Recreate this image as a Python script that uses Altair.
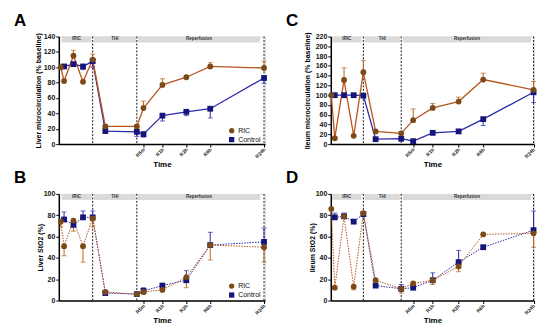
import altair as alt
import pandas as pd

FONT = "Liberation Sans"

# ---- time axis (irregular drawn positions) ----
x_liver = [2, 5.3, 14.7, 24.3, 34, 46.7, 78.3, 85, 104, 128, 152, 206]
x_ileum = [0.5, 4, 13.3, 23, 32.7, 45, 70.7, 82.7, 102.3, 128.3, 153, 203.5]
rep_labels = ["R5m", "R1h", "R2h", "R6h", "R24h"]
phase_names = ["IRIC", "THI", "Reperfusion"]
phase_liver = [(2.7, 32.7), (35.3, 77.3), (79.5, 202)]
phase_ileum = [(1.3, 30.7), (34, 69.3), (72.5, 201)]
dash_liver = [34, 78.3, 206]
dash_ileum = [32.7, 70.7, 203.5]

# ---- A: liver microcirculation (% baseline) ----
A_ric = [100, 82, 115, 81, 110, 23, 23, 47, 77, 87, 101, 99]
A_ric_err = [100, 84, 122, 83, 117, 25, 25, 56, 85, 89, 106, 108]
A_ctl = [None, 101, 104, 101, 108, 17, 16, 13, 37, 42, 46, 86]
A_ctl_err = [None, 99, 101, 97, 100, 14, 10, 9, 30, 37, 34, 79]

# ---- C: ileum microcirculation (% baseline) ----
C_ric = [100, 12, 131, 17, 147, 26, 22, 49, 74, 87, 132, 111]
C_ric_err = [100, 14, 156, 19, 171, 28, 25, 72, 83, 96, 145, 128]
C_ctl = [None, 100, 100, 100, 99, 10, 11, 6, 23, 26, 51, 106]
C_ctl_err = [None, 100, 100, 100, 97, 9, 10, 5, 21, 24, 38, 85]

# ---- B: liver StO2 (%) ----
B_ric = [74, 51, 75, 51, 77, 8, 6, 8, 10, 22, 52, 50]
B_ric_err = [69, 42, 65, 36, 69, 7, 5, 6, 8, 12, 38, 36]
B_ctl = [None, 76, 71, 78, 78, 7, 6, 9, 14, 19, 52, 55]
B_ctl_err = [None, 83, 73, 84, 84, 8, 7, 12, 16, 28, 64, 68]

# ---- D: ileum StO2 (%) ----
D_ric = [86, 12, 79, 13, 82, 19, 11, 16, 19, 32, 62, 63]
D_ric_err = [84, 11, 77, 10, 80, 18, 7, 14, 15, 27, 61, 50]
D_ctl = [None, 78, 79, 74, 81, 14, 11, 12, 19, 36, 50, 66]
D_ctl_err = [None, 82, 82, 75, 83, 15, 15, 13, 26, 47, 51, 84]

RIC_LINE, RIC_MK, RIC_ERR = "#b9561d", "#7b4a17", "#b8661f"
CTL_LINE, CTL_MK, CTL_ERR = "#2b2aa8", "#15157a", "#2b2aa8"


def label_expr(vals, labels):
    expr = "''"
    for v, l in reversed(list(zip(vals, labels))):
        expr = "abs(datum.value - %s) < 0.01 ? '%s' : (%s)" % (v, l, expr)
    return expr


def panel(xpos, phases, dashes, ric, ric_err, ctl, ctl_err, ymax, ytitle,
          letter, dotted, legend_xy, width, height, ytitle_x):
    df_r = pd.DataFrame({"x": xpos, "v": ric, "e": ric_err, "series": "RIC"})
    df_c = pd.DataFrame({"x": xpos, "v": ctl, "e": ctl_err,
                         "series": "Control"}).dropna()
    df_p = pd.DataFrame({"s": [p[0] for p in phases], "e": [p[1] for p in phases],
                         "name": phase_names})
    df_p["m"] = (df_p["s"] + df_p["e"]) / 2
    df_d = pd.DataFrame({"x": dashes})

    xs = alt.Scale(domain=[0, width], nice=False, zero=False)
    ys = alt.Scale(domain=[0, ymax], nice=False)
    rep_vals = xpos[7:]
    xax = alt.Axis(values=rep_vals, labelExpr=label_expr(rep_vals, rep_labels),
                   labelAngle=-45, labelAlign="right",
                   labelBaseline="middle", labelFontSize=5, labelFontWeight="bold",
                   labelPadding=1, labelColor="#222", tickSize=3, tickColor="black",
                   domainColor="black", domainWidth=1.5, grid=False, title="Time",
                   titleFontSize=8, titleFontWeight="bold", titleY=20,
                   titleBaseline="middle", labelFont=FONT, titleFont=FONT)
    yax = alt.Axis(values=list(range(0, ymax + 1, 20)), labelFontSize=7,
                   labelFontWeight="bold", labelPadding=1, labelColor="#111",
                   tickSize=3, tickColor="black", domainColor="black", domainWidth=1.5,
                   grid=False, title=ytitle, titleFontSize=7, titleFontWeight="bold",
                   titleX=ytitle_x, titleBaseline="middle", labelFont=FONT,
                   titleFont=FONT)

    def X(f):
        return alt.X(f, type="quantitative", scale=xs, axis=xax)

    def Y(f):
        return alt.Y(f, type="quantitative", scale=ys, axis=yax)

    bands = alt.Chart(df_p).mark_rect(color="#dadada").encode(
        x=X("s"), x2="e", y=alt.value(0), y2=alt.value(6))
    btxt = alt.Chart(df_p).mark_text(fontSize=4.5, fontWeight="bold", color="#333",
                                     font=FONT, baseline="middle").encode(
        x=X("m"), y=alt.value(3), text="name:N")
    rules = alt.Chart(df_d).mark_rule(color="black", strokeDash=[2, 1.5],
                                      strokeWidth=0.9).encode(x=X("x"))

    def series(df, line_col, err_col):
        eb = alt.Chart(df).mark_rule(color=err_col, strokeWidth=1).encode(
            x=X("x"), y=Y("v"), y2="e")
        cap = alt.Chart(df).mark_tick(color=err_col, orient="horizontal", size=5,
                                      thickness=1).encode(x=X("x"), y=Y("e"))
        if dotted:
            ln = alt.Chart(df).mark_line(color=line_col, strokeWidth=1,
                                         strokeDash=[1.5, 1.2]).encode(x=X("x"), y=Y("v"))
        else:
            ln = alt.Chart(df).mark_line(color=line_col, strokeWidth=1.3).encode(
                x=X("x"), y=Y("v"))
        return [eb, cap, ln]

    if legend_xy is not None:
        leg = alt.Legend(orient="none", legendX=legend_xy[0], legendY=legend_xy[1],
                         title=None, labelFontSize=7, labelFont=FONT, symbolSize=28,
                         rowPadding=1, labelOffset=3, padding=0, labelColor="#111")
    else:
        leg = None
    df_pts = pd.concat([df_c, df_r], ignore_index=True)
    df_pts["o"] = range(len(df_pts))
    pts = alt.Chart(df_pts).mark_point(filled=True, size=34, opacity=1).encode(
        x=X("x"), y=Y("v"),
        color=alt.Color("series:N", scale=alt.Scale(domain=["RIC", "Control"],
                                                    range=[RIC_MK, CTL_MK]), legend=leg),
        shape=alt.Shape("series:N", scale=alt.Scale(domain=["RIC", "Control"],
                                                    range=["circle", "square"]), legend=leg),
        order=alt.Order("o:Q"))
    lt = alt.Chart(pd.DataFrame({"t": [letter]})).mark_text(
        align="left", baseline="top", fontSize=17, fontWeight="bold", font=FONT,
        color="black").encode(text="t:N", x=alt.value(-45), y=alt.value(-24))

    layers = [bands, btxt, rules] + series(df_c, CTL_LINE, CTL_ERR) + \
        series(df_r, RIC_LINE, RIC_ERR) + [pts, lt]
    return alt.layer(*layers).properties(width=width, height=height)


pA = panel(x_liver, phase_liver, dash_liver, A_ric, A_ric_err, A_ctl, A_ctl_err, 140,
           "Liver microcirculation (% baseline)", "A", False, (170, 91), 207, 108, -20)
pC = panel(x_ileum, phase_ileum, dash_ileum, C_ric, C_ric_err, C_ctl, C_ctl_err, 220,
           "Ileum microcirculation (% baseline)", "C", False, None, 204, 108, -23)
pB = panel(x_liver, phase_liver, dash_liver, B_ric, B_ric_err, B_ctl, B_ctl_err, 100,
           "Liver StO2 (%)", "B", True, (170, 89), 207, 107, -18)
pD = panel(x_ileum, phase_ileum, dash_ileum, D_ric, D_ric_err, D_ctl, D_ctl_err, 100,
           "Ileum StO2 (%)", "D", True, None, 204, 107, -18)

chart = alt.concat(pA, pC, pB, pD, columns=2, spacing={"row": 50, "column": 66}).resolve_scale(
    color="independent", shape="independent").properties(
    bounds="flush", padding={"left": 5, "top": 2, "right": 5, "bottom": 5}
).configure_view(stroke=None).configure(background="white")

chart.save("out.html", embed_options={"renderer": "svg", "actions": False})
